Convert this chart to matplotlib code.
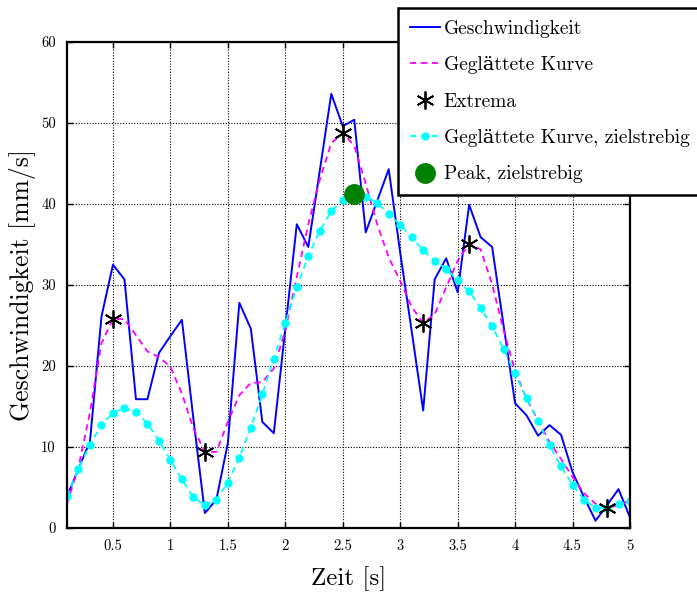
import numpy as np
import matplotlib
matplotlib.use("Agg")
import matplotlib.pyplot as plt

plt.rcParams['font.family'] = ['cmr10', 'DejaVu Serif']
plt.rcParams['axes.formatter.use_mathtext'] = True

# ---- data ----
t = [round(0.1 * i, 1) for i in range(1, 51)]
speed = [3.9, 7.3, 10.7, 26.1, 32.5, 30.7, 15.9, 15.9, 21.6, 23.7,
         25.7, 13.5, 1.85, 3.5, 10.5, 27.8, 24.6, 13.1, 11.7, 24.6,
         37.5, 34.7, 44.1, 53.6, 49.6, 50.4, 36.5, 40.4, 44.3, 34.0,
         24.3, 14.5, 30.7, 33.3, 29.1, 39.9, 35.9, 34.7, 25.0, 15.4,
         13.9, 11.4, 12.7, 11.5, 6.9, 3.8, 0.9, 2.8, 4.8, 1.3]
smooth = [3.0, 7.5, 14.3, 22.8, 25.8, 25.8, 23.8, 21.8, 21.1, 19.9,
          16.6, 12.3, 9.4, 9.4, 13.1, 16.4, 17.9, 18.0, 19.7, 24.4,
          31.0, 37.5, 43.0, 47.5, 48.8, 47.2, 42.5, 37.5, 33.4, 30.5,
          27.3, 25.3, 26.4, 29.7, 33.0, 35.1, 34.4, 30.1, 24.4, 19.4,
          15.9, 13.3, 10.6, 8.5, 6.3, 4.3, 3.0, 2.5, 2.8, 3.4]
smooth_direct = [3.9, 7.3, 10.3, 12.7, 14.2, 14.8, 14.3, 12.9, 10.8, 8.4,
                 6.0, 3.8, 2.8, 3.5, 5.6, 8.7, 12.4, 16.5, 20.9, 25.3,
                 29.7, 33.6, 36.7, 39.1, 40.5, 41.1, 40.9, 40.1, 38.8, 37.4,
                 35.9, 34.3, 33.0, 32.0, 30.6, 29.2, 27.2, 24.9, 22.1, 19.1,
                 16.0, 13.2, 10.2, 7.6, 5.3, 3.5, 2.5, 2.5, 3.0, 3.3]
extrema_t = [0.5, 1.3, 2.5, 3.2, 3.6, 4.8]
extrema_v = [25.8, 9.4, 48.8, 25.3, 35.1, 2.5]
peak_t = [2.6]
peak_v = [41.2]

xticks = [0.5, 1, 1.5, 2, 2.5, 3, 3.5, 4, 4.5, 5]
xtick_labels = ['0.5', '1', '1.5', '2', '2.5', '3', '3.5', '4', '4.5', '5']
yticks = [0, 10, 20, 30, 40, 50, 60]
ytick_labels = ['0', '10', '20', '30', '40', '50', '60']

labels = ['Geschwindigkeit', 'Geglättete Kurve', 'Extrema',
          'Geglättete Kurve, zielstrebig', 'Peak, zielstrebig']

# ---- figure ----
fig = plt.figure(figsize=(6.97, 5.92), dpi=100)
ax = fig.add_axes([67/697, 1-528/592, (630-67)/697, (528-42)/592])

h1, = ax.plot(t, speed, color='#0000ff', lw=1.4, label=labels[0])
h2, = ax.plot(t, smooth, color='#ff00ff', lw=1.3, ls=(0, (3.5, 2.5)), label=labels[1])
h3, = ax.plot(extrema_t, extrema_v, ls='none', marker=(6, 2, 0), ms=13,
              mec='black', mew=1.3, color='black', label=labels[2], zorder=5)
h4, = ax.plot(t, smooth_direct, color='#00ffff', lw=1.3, ls=(0, (3.5, 2.5)),
              marker='o', ms=5, mec='#00ffff', mfc='#00ffff', label=labels[3])
h5, = ax.plot(peak_t, peak_v, ls='none', marker='o', ms=14, color='#008000',
              label=labels[4], zorder=6)

ax.set_xlim(0.1, 5)
ax.set_ylim(0, 60)
ax.set_xticks(xticks)
ax.set_xticklabels(xtick_labels)
ax.set_yticks(yticks)
ax.set_yticklabels(ytick_labels)
ax.tick_params(direction='in', top=True, right=True, length=4, width=1,
               labelsize=10.5, pad=8)
ax.grid(True, color='black', ls=(0, (1, 1.5)), lw=0.8)
for s in ax.spines.values():
    s.set_linewidth(1.6)

ax.set_xlabel('Zeit [s]', fontsize=18, labelpad=10)
ax.set_ylabel('Geschwindigkeit [mm/s]', fontsize=18.5, labelpad=4)

leg = fig.legend(handles=[h1, h2, h3, h4, h5], labels=labels,
                 loc='upper left', bbox_to_anchor=(398/697, 1-8/592),
                 fontsize=14, frameon=True, fancybox=False, framealpha=1,
                 edgecolor='black', handlelength=1.55, handletextpad=0.2,
                 labelspacing=0.95, borderpad=0.6, borderaxespad=0)
leg.get_frame().set_linewidth(1.8)
leg.set_zorder(10)

fig.savefig('out.png', dpi=100)
